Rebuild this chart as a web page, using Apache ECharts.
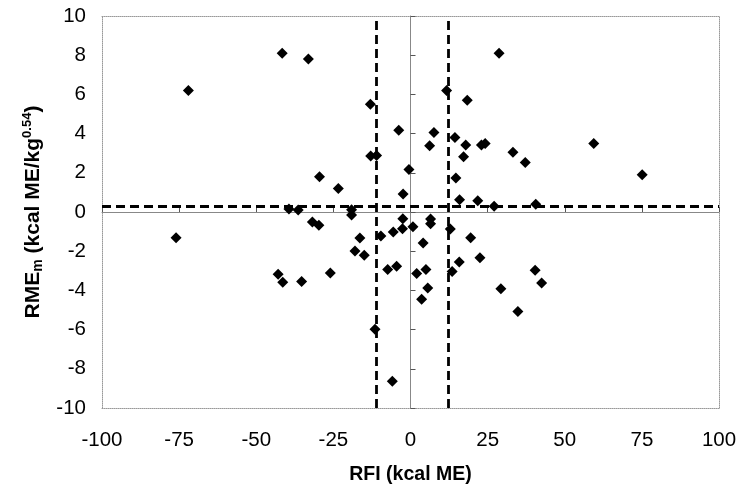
<!DOCTYPE html>
<html>
<head>
<meta charset="utf-8">
<script src="https://cdn.jsdelivr.net/npm/echarts@6/dist/echarts.min.js"></script>
<style>
  html, body { margin: 0; padding: 0; background: #fff; }
  #main { width: 742px; height: 493px; }
</style>
</head>
<body>
<div id="main"></div>
<script>
// RFI (kcal ME) values
var rfi = [
  -72, -41.6, -33.1, -13, -12.9, -11.0, -29.5, -23.4, -3.8, -0.5,
  -2.4, -39.4, -36.4, -19.1, -19.1, 28.7, 11.7, 18.4, 7.6, 6.2,
  14.4, 17.9, 17.2, 23.0, 24.2, 33.2, 37.2, 59.4, 75.1, 14.7,
  15.9, 21.8, 27.1, 40.6, -76, -42.9, -41.4, -35.3, -26, -11.5,
  -5.9, -16.4, -18, -15, -9.6, -7.4, -4.5, -5.6, -2.5, -2.6,
  0.8, 6.5, 6.5, 4.1, 2.0, 5.0, 5.6, 3.6, 12.9, 13.5,
  15.8, 19.5, 22.5, 29.3, 34.8, 40.4, 42.5, -31.8, -29.7
]
// RMEm values, same order
var rme = [
  6.2, 8.1, 7.8, 5.5, 2.86, 2.88, 1.8, 1.2, 4.17, 2.17,
  0.92, 0.15, 0.1, 0.12, -0.15, 8.1, 6.2, 5.7, 4.05, 3.38,
  3.8, 3.42, 2.82, 3.42, 3.5, 3.05, 2.52, 3.5, 1.9, 1.73,
  0.62, 0.58, 0.29, 0.39, -1.31, -3.18, -3.59, -3.55, -3.11, -5.98,
  -8.64, -1.33, -1.99, -2.21, -1.23, -2.94, -2.77, -1.02, -0.35, -0.86,
  -0.75, -0.36, -0.6, -1.58, -3.14, -2.94, -3.88, -4.45, -0.87, -3.03,
  -2.55, -1.31, -2.33, -3.91, -5.08, -2.97, -3.62, -0.51, -0.67
]
// dashed cut-off lines
var cutX = [-11, 12.3]
var cutY = [0.3]

var points = []
for (var i = 0; i < rfi.length; i++) {
  points.push([rfi[i], rme[i]])
}

var font = 'Liberation Sans, Arial, sans-serif'
var chart = echarts.init(document.getElementById('main'))

var lines = []
for (let v of cutX) lines.push({xAxis: v})
for (let v of cutY) lines.push({yAxis: v})

var hidden = {show: false}
var dotted = {show: true, onZero: false, lineStyle: {color: '#999', width: 1, type: [1, 1]}}

var option = {
  animation: false,
  grid: {left: 102, right: 23, top: 16, bottom: 85},
  xAxis: [
    {
      type: 'value', min: -100, max: 100, interval: 25, position: 'bottom',
      axisLine: dotted, axisTick: hidden, splitLine: hidden,
      axisLabel: {color: '#000', fontSize: 20.5, fontFamily: font, margin: 22},
      name: 'RFI (kcal ME)', nameLocation: 'middle', nameGap: 57,
      nameTextStyle: {color: '#000', fontSize: 19.5, fontWeight: 'bold', fontFamily: font}
    },
    {
      // zero line with ticks
      type: 'value', min: -100, max: 100, interval: 25,
      axisLine: {show: true, onZero: true, lineStyle: {color: '#888', width: 1}},
      axisTick: {show: true, length: 5, lineStyle: {color: '#555'}},
      axisLabel: hidden, splitLine: hidden
    },
    {
      type: 'value', min: -100, max: 100, position: 'top',
      axisLine: dotted, axisTick: hidden, axisLabel: hidden, splitLine: hidden
    }
  ],
  yAxis: [
    {
      type: 'value', min: -10, max: 10, interval: 2, position: 'left',
      axisLine: dotted, axisTick: hidden, splitLine: hidden,
      axisLabel: {color: '#000', fontSize: 20.5, fontFamily: font, margin: 16},
      name: '{b|RME}{s|m}{b| (kcal ME/kg}{p|0.54}{b|)}',
      nameLocation: 'middle', nameGap: 46, nameRotate: 90,
      nameTextStyle: {
        color: '#000', fontFamily: font,
        rich: {
          b: {fontSize: 21, fontWeight: 'bold', fontFamily: font, color: '#000'},
          s: {fontSize: 14, fontWeight: 'bold', fontFamily: font, color: '#000', verticalAlign: 'bottom', padding: [11, 0, 0, 0]},
          p: {fontSize: 13, fontWeight: 'bold', fontFamily: font, color: '#000', verticalAlign: 'top', padding: [0, 0, 11, 0]}
        }
      }
    },
    {
      type: 'value', min: -10, max: 10, interval: 2,
      axisLine: {show: true, onZero: true, lineStyle: {color: '#888', width: 1}},
      axisTick: {show: true, length: 5, lineStyle: {color: '#555'}},
      axisLabel: hidden, splitLine: hidden
    },
    {
      type: 'value', min: -10, max: 10, position: 'right',
      axisLine: dotted, axisTick: hidden, axisLabel: hidden, splitLine: hidden
    }
  ],
  series: [
    {
      type: 'scatter',
      xAxisIndex: 0,
      yAxisIndex: 0,
      symbol: 'diamond',
      symbolSize: 11,
      itemStyle: {color: '#000', opacity: 1},
      data: points,
      z: 5,
      markLine: {
        silent: true,
        symbol: 'none',
        label: {show: false},
        lineStyle: {color: '#000', width: 2.8, type: [9, 5]},
        data: lines
      }
    }
  ]
}
chart.setOption(option)
</script>
</body>
</html>
